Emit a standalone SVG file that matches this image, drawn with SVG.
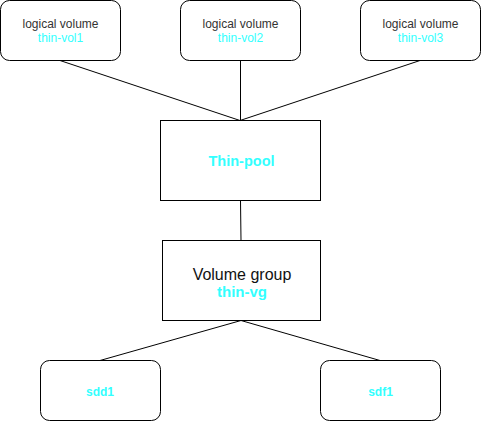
<svg xmlns="http://www.w3.org/2000/svg" width="481" height="421" viewBox="0 0 481 421">
<style>
.box{fill:#fff;stroke:#000;stroke-width:1}
.lbl{font-family:"Liberation Sans",Arial,sans-serif;font-size:12px;fill:#333;text-anchor:middle}
.cy{fill:#33FFFF}
.b{font-weight:bold}
.edge{stroke:#000;stroke-width:1;fill:none}
</style>
<rect width="481" height="421" fill="#fff"/>
<g id="connectors">
<line class="edge" x1="60" y1="60.5" x2="240" y2="120.5"/>
<line class="edge" x1="240.5" y1="60.5" x2="240.5" y2="120.5"/>
<line class="edge" x1="420" y1="60.5" x2="240" y2="120.5"/>
<line class="edge" x1="240.5" y1="200.5" x2="241" y2="240.5"/>
<line class="edge" x1="241" y1="320.5" x2="100" y2="360.5"/>
<line class="edge" x1="241" y1="320.5" x2="380" y2="360.5"/>
</g>
<g id="lv1">
<rect class="box" x="0.5" y="0.5" width="120" height="60" rx="9"/>
<text class="lbl" x="60.5" y="28">logical volume</text>
<text class="lbl cy" x="60.5" y="42">thin-vol1</text>
</g>
<g id="lv2">
<rect class="box" x="180.5" y="0.5" width="120" height="60" rx="9"/>
<text class="lbl" x="240.5" y="28">logical volume</text>
<text class="lbl cy" x="240.5" y="42">thin-vol2</text>
</g>
<g id="lv3">
<rect class="box" x="360.5" y="0.5" width="120" height="60" rx="9"/>
<text class="lbl" x="420.5" y="28">logical volume</text>
<text class="lbl cy" x="420.5" y="42">thin-vol3</text>
</g>
<g id="thinpool">
<rect class="box" x="160.5" y="120.5" width="160" height="80"/>
<text class="lbl cy b" x="241.5" y="166" style="font-size:14.5px">Thin-pool</text>
</g>
<g id="vg">
<rect class="box" x="162.5" y="240.5" width="158" height="80"/>
<text class="lbl" x="242" y="280" style="font-size:16px;fill:#111">Volume group</text>
<text class="lbl cy b" x="242" y="297" style="font-size:15px">thin-vg</text>
</g>
<g id="sdd1">
<rect class="box" x="40.5" y="360.5" width="120" height="60" rx="9"/>
<text class="lbl cy b" x="100" y="396">sdd1</text>
</g>
<g id="sdf1">
<rect class="box" x="320.5" y="360.5" width="120" height="60" rx="9"/>
<text class="lbl cy b" x="380.5" y="396">sdf1</text>
</g>
</svg>
